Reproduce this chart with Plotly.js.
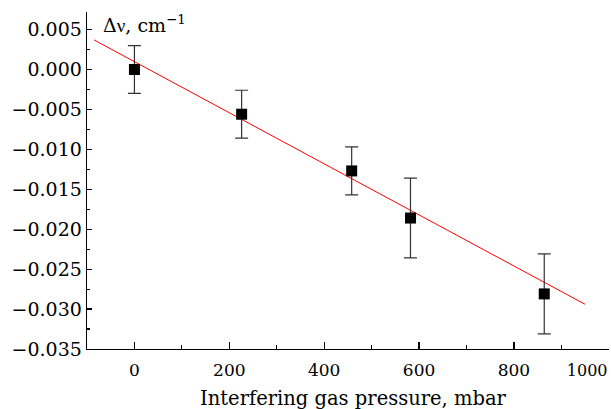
<!DOCTYPE html>
<html>
<head>
<meta charset="utf-8">
<script src="https://cdn.plot.ly/plotly-3.0.1.min.js"></script>
<style>html,body{margin:0;padding:0;background:#fff;}#chart{width:611px;height:409px;}</style>
</head>
<body>
<div id="chart"></div>
<script>
// Measured data (pressure in mbar, shift in cm^-1, error in cm^-1)
const pressure = [0, 226, 458, 582, 864];
const shift = [0.0000, -0.0056, -0.0127, -0.0186, -0.0281];
const shiftErr = [0.0030, 0.0030, 0.0030, 0.0050, 0.0050];
// Linear fit line endpoints
const fitX = [-85, 950];
const fitY = [0.0037, -0.0294];
// Tick labels and axis titles
const xTickVals = [0, 200, 400, 600, 800, 1000];
const xTickText = ['0', '200', '400', '600', '800',
  '<span style="font-size:16px">1000</span>' + '\u00a0'.repeat(8)];
const yTickVals = [0.005, 0, -0.005, -0.010, -0.015, -0.020, -0.025, -0.030, -0.035];
const xTitle = 'Interfering gas pressure, mbar';
const yTitle = 'Δ<span style="font-family:Liberation Serif">ν</span>, cm<sup>−1</sup>';

const FONT = 'DejaVu Serif, Liberation Serif, serif';

const traces = [
  {
    x: fitX, y: fitY, mode: 'lines', type: 'scatter',
    line: {color: '#ff0000', width: 1}, hoverinfo: 'skip', showlegend: false
  },
  {
    x: pressure, y: shift, mode: 'markers', type: 'scatter',
    marker: {symbol: 'square', size: 11, color: '#000'},
    error_y: {type: 'data', array: shiftErr, visible: true, color: '#333', thickness: 1.2, width: 6.5},
    showlegend: false
  }
];

const layout = {
  width: 611, height: 409,
  margin: {l: 87, r: 2, t: 12, b: 60, pad: 0},
  paper_bgcolor: '#fff', plot_bgcolor: '#fff',
  font: {family: FONT, color: '#000', size: 18},
  showlegend: false,
  xaxis: {
    range: [-100, 1000.5],
    tickmode: 'array', tickvals: xTickVals, ticktext: xTickText,
    ticks: 'inside', ticklen: 7, tickwidth: 1.2, tickcolor: '#000',
    minor: {ticks: 'inside', ticklen: 4, dtick: 100, tick0: 0, tickcolor: '#000', tickwidth: 1.2},
    showline: true, linecolor: '#000', linewidth: 1.3, mirror: false,
    showgrid: false, zeroline: false,
    tickfont: {family: FONT, size: 17},
    ticklabelstandoff: 5,
    ticklabeloverflow: 'allow'
  },
  yaxis: {
    range: [-0.035, 0.0072],
    tickmode: 'array', tickvals: yTickVals, tickformat: '.3f',
    ticks: 'inside', ticklen: 5, tickwidth: 1.2, tickcolor: '#000',
    minor: {ticks: 'inside', ticklen: 3, dtick: 0.0025, tick0: 0, tickcolor: '#000', tickwidth: 1.2},
    showline: true, linecolor: '#000', linewidth: 1.3,
    showgrid: false, zeroline: false,
    tickfont: {family: FONT, size: 19}
  },
  annotations: [
    {
      xref: 'paper', yref: 'paper', x: 0.027, y: 1.0, xanchor: 'left', yanchor: 'middle', yshift: -12,
      text: yTitle, showarrow: false,
      font: {family: FONT, size: 19, color: '#000'}
    },
    {
      xref: 'paper', yref: 'paper', x: 0.511, y: 0, xanchor: 'center', yanchor: 'top', yshift: -36,
      text: xTitle, showarrow: false,
      font: {family: FONT, size: 19.5, color: '#000'}
    }
  ]
};

Plotly.newPlot('chart', traces, layout, {displayModeBar: false, staticPlot: true});
</script>
</body>
</html>
